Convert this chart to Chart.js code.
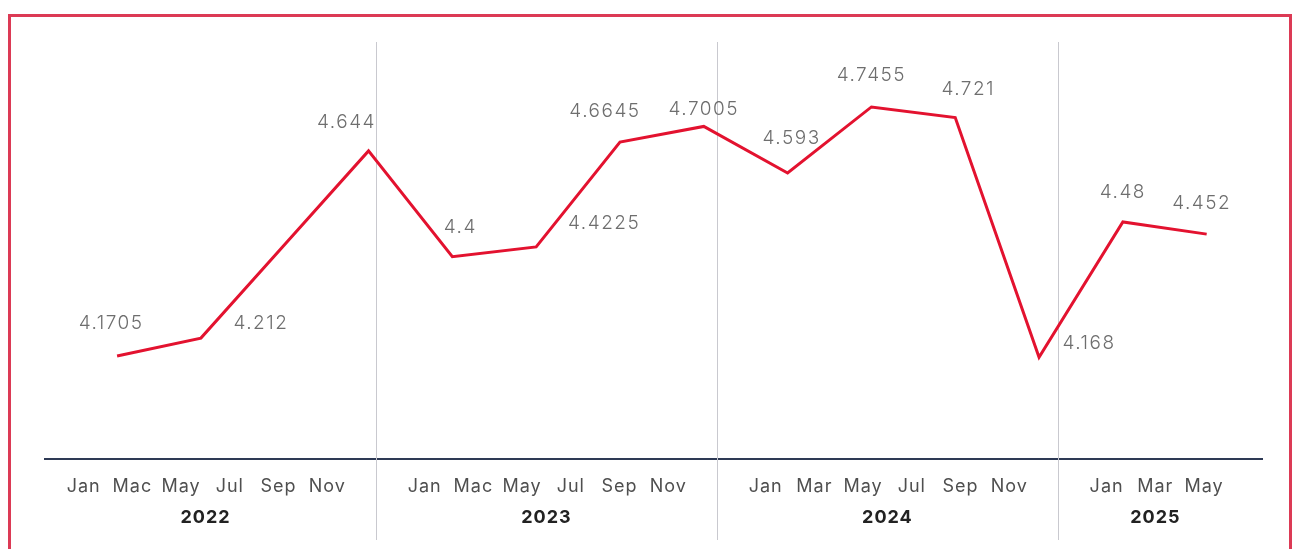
<!DOCTYPE html>
<html>
<head>
<meta charset="utf-8">
<title>Monthly trend 2022–2025</title>
<script src="https://cdn.jsdelivr.net/npm/chart.js@4.4.1/dist/chart.umd.min.js"></script>
<style>
    html, body { margin: 0; padding: 0; background: #ffffff; overflow: hidden; }
    .frame {
        position: absolute;
        left: 8px; top: 14px;
        width: 1278px; height: 600px;
        border: 3px solid #dc3a55;
    }
    .chart-box {
        position: absolute;
        left: 0; top: 0;
        width: 1294px; height: 549px;
    }
</style>
</head>
<body>
<div class="frame"></div>
<div class="chart-box"><canvas id="trendChart"></canvas></div>

<script>
// ── Data ──────────────────────────────────────────────────
const years = ['2022', '2023', '2024', '2025'];
const monthNames = [
    ['Jan', 'Mac', 'May', 'Jul', 'Sep', 'Nov'],
    ['Jan', 'Mac', 'May', 'Jul', 'Sep', 'Nov'],
    ['Jan', 'Mar', 'May', 'Jul', 'Sep', 'Nov'],
    ['Jan', 'Mar', 'May']
];
const values = [4.1705, 4.212, 4.428, 4.644, 4.4, 4.4225, 4.6645, 4.7005,
                4.593, 4.7455, 4.721, 4.168, 4.48, 4.452];
const showValue = [true, true, false, true, true, true, true, true,
                   true, true, true, true, true, true];

// label offsets from each point (px)
const labelOffsets = [
    [-6, -33], [60, -15], [0, 0], [-22, -29], [8, -29], [68, -24], [-15, -31],
    [0, -17], [4, -35], [0, -32], [13, -28], [50, -14], [0, -30], [-5, -31]
];

// ── Axis slots: 6 month slots per year plus one gap slot between years ──
const SLOTS_PER_YEAR = 7;
const monthSlots = [];
const monthSlotLabels = [];
monthNames.forEach((names, g) => {
    names.forEach((m, k) => {
        monthSlots.push(g * SLOTS_PER_YEAR + k);
        monthSlotLabels.push(m);
    });
});
const yearSlots = monthNames.map((names, g) => g * SLOTS_PER_YEAR + (names.length - 1) / 2);
const dividerSlots = [6, 13, 20];

const FONT = "Inter, 'Open Sans', sans-serif";

// ── Plugins ───────────────────────────────────────────────
const yearDividers = {
    id: 'yearDividers',
    beforeDraw(chart) {
        // a little tracking for all axis text
        chart.ctx.letterSpacing = '1px';
    },
    beforeDatasetsDraw(chart) {
        const sc = chart.scales.months;
        const ctx = chart.ctx;
        ctx.save();
        ctx.strokeStyle = '#c9c9cf';
        ctx.lineWidth = 1;
        dividerSlots.forEach(s => {
            const x = Math.round(sc.getPixelForValue(s)) + 0.5;
            ctx.beginPath();
            ctx.moveTo(x, 42);
            ctx.lineTo(x, 540);
            ctx.stroke();
        });
        ctx.restore();
    },
    afterDraw(chart) {
        chart.ctx.letterSpacing = '0px';
    }
};

const valueLabels = {
    id: 'valueLabels',
    afterDatasetsDraw(chart) {
        const ctx = chart.ctx;
        const meta = chart.getDatasetMeta(0);
        ctx.save();
        ctx.font = '300 19px ' + FONT;
        ctx.letterSpacing = '1.5px';
        ctx.fillStyle = '#6e6e6e';
        ctx.textAlign = 'center';
        ctx.textBaseline = 'middle';
        meta.data.forEach((pt, i) => {
            if (!showValue[i]) return;
            const [dx, dy] = labelOffsets[i];
            ctx.fillText(String(values[i]), pt.x + dx, pt.y + dy);
        });
        ctx.restore();
    }
};

// ── Chart ─────────────────────────────────────────────────
new Chart(document.getElementById('trendChart'), {
    type: 'line',
    data: {
        datasets: [{
            data: values.map((v, i) => ({ x: i, y: v })),
            borderColor: '#e3122f',
            borderWidth: 3,
            borderJoinStyle: 'miter',
            pointRadius: 0,
            tension: 0,
            fill: false
        }]
    },
    options: {
        responsive: true,
        maintainAspectRatio: false,
        animation: false,
        layout: { padding: { left: 45, right: 32, top: 40, bottom: 8 } },
        plugins: {
            legend: { display: false },
            tooltip: { enabled: false }
        },
        scales: {
            x: { type: 'linear', display: false, bounds: 'data', min: -0.86, max: 13.66 },
            y: { display: false, min: 3.933, max: 4.9 },
            months: {
                type: 'linear',
                axis: 'x',
                position: 'bottom',
                bounds: 'data',
                min: -0.7945,
                max: 24.19,
                afterBuildTicks: s => { s.ticks = monthSlots.map(v => ({ value: v })); },
                afterFit: s => { s.height = 42; },
                grid: { display: false, drawTicks: false },
                border: { display: true, color: '#2e3a55', width: 2 },
                ticks: {
                    autoSkip: false,
                    maxRotation: 0,
                    padding: 17,
                    color: '#4f4f4f',
                    font: { family: FONT, size: 18, weight: '400' },
                    callback: (v, i) => monthSlotLabels[i]
                }
            },
            years: {
                type: 'linear',
                axis: 'x',
                position: 'bottom',
                bounds: 'data',
                min: -0.7945,
                max: 24.19,
                afterBuildTicks: s => { s.ticks = yearSlots.map(v => ({ value: v })); },
                afterFit: s => { s.height = 40; },
                grid: { display: false, drawTicks: false },
                border: { display: false },
                ticks: {
                    autoSkip: false,
                    maxRotation: 0,
                    padding: 6,
                    color: '#222222',
                    font: { family: FONT, size: 18, weight: 'bold' },
                    callback: (v, i) => years[i]
                }
            }
        }
    },
    plugins: [yearDividers, valueLabels]
});
</script>
</body>
</html>
